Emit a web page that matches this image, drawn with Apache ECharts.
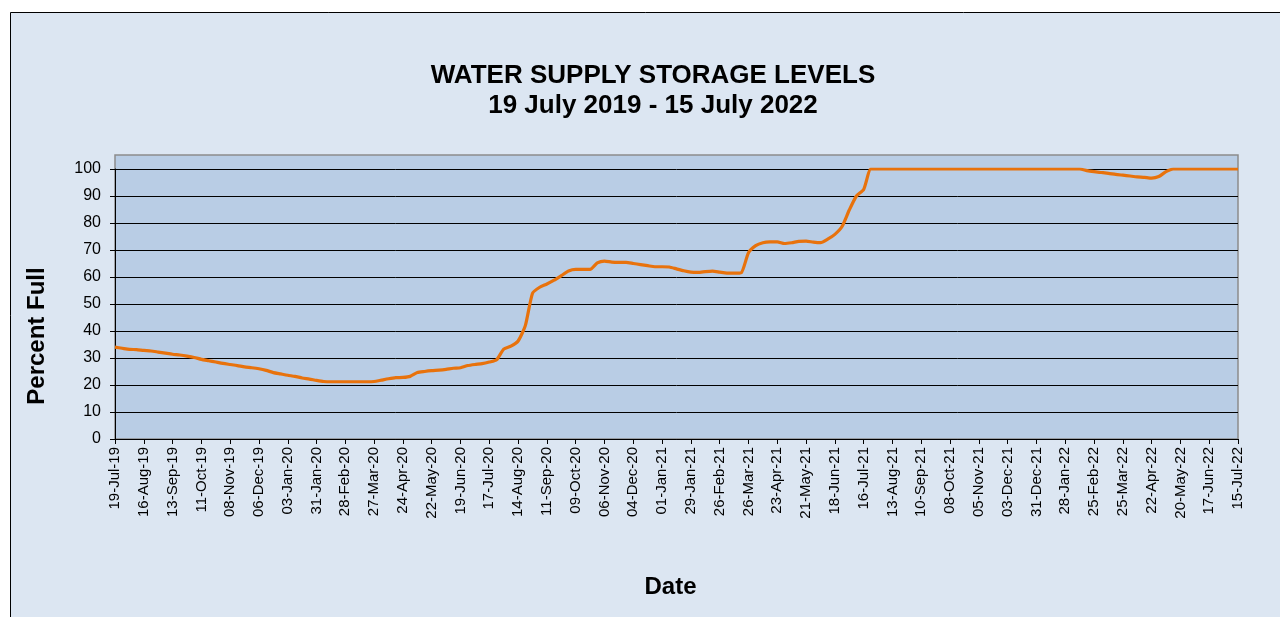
<!DOCTYPE html>
<html>
<head>
<meta charset="utf-8">
<title>Water Supply Storage Levels</title>
<script src="https://cdn.jsdelivr.net/npm/echarts@6/dist/echarts.min.js"></script>
<style>
    html, body { margin: 0; padding: 0; background: #ffffff; }
    #storage-chart { width: 1280px; height: 617px; }
</style>
</head>
<body>
<div id="storage-chart"></div>
<script>
// weekly readings, first one on 19-Jul-2019
var startDate = '2019-07-19';
var percentFull = [
    34.0, 33.6, 33.2, 33.1, 32.8, 32.6, 32.2, 31.8, 31.4, 31.1,
    30.7, 30.2, 29.5, 29.0, 28.5, 28.0, 27.6, 27.2, 26.7, 26.4,
    26.0, 25.4, 24.6, 24.1, 23.6, 23.2, 22.6, 22.2, 21.7, 21.3,
    21.2, 21.2, 21.2, 21.2, 21.2, 21.2, 21.3, 21.8, 22.3, 22.7,
    22.8, 23.2, 24.6, 25.0, 25.3, 25.5, 25.8, 26.2, 26.4, 27.2,
    27.6, 27.9, 28.5, 29.3, 33.3, 34.4, 36.3, 42.0, 54.0, 56.2,
    57.4, 58.8, 60.5, 62.2, 62.8, 62.8, 62.8, 65.2, 65.9, 65.5,
    65.4, 65.4, 65.0, 64.6, 64.2, 63.8, 63.8, 63.7, 63.0, 62.3,
    61.8, 61.7, 62.0, 62.2, 61.8, 61.4, 61.4, 61.6, 69.0, 71.6,
    72.7, 73.0, 73.0, 72.4, 72.7, 73.2, 73.3, 72.9, 72.7, 74.0,
    75.8, 78.7, 84.8, 90.0, 92.4, 100, 100, 100, 100, 100,
    100, 100, 100, 100, 100, 100, 100, 100, 100, 100,
    100, 100, 100, 100, 100, 100, 100, 100, 100, 100,
    100, 100, 100, 100, 100, 99.4, 99.0, 98.7, 98.4, 98.0,
    97.7, 97.4, 97.1, 96.9, 96.6, 97.2, 99.0, 100, 100, 100,
    100, 100, 100, 100, 100, 100, 100
];
var yTicks = [0, 10, 20, 30, 40, 50, 60, 70, 80, 90, 100];

var monthNames = ['Jan','Feb','Mar','Apr','May','Jun','Jul','Aug','Sep','Oct','Nov','Dec'];
function fmtDate(d) {
    var dd = ('0' + d.getUTCDate()).slice(-2);
    var yy = ('' + d.getUTCFullYear()).slice(-2);
    return dd + '-' + monthNames[d.getUTCMonth()] + '-' + yy;
}
var weekDates = [];
var t0 = Date.parse(startDate + 'T00:00:00Z');
for (var i = 0; i < percentFull.length; i++) {
    weekDates.push(fmtDate(new Date(t0 + i * 7 * 86400000)));
}

var chart = echarts.init(document.getElementById('storage-chart'));
var font = '"Liberation Sans", Arial, sans-serif';
var option = {
    animation: false,
    backgroundColor: '#ffffff',
    textStyle: { fontFamily: font },
    graphic: [
        {
            type: 'rect', z: -20, silent: true,
            shape: { x: 10.5, y: 12.5, width: 1300, height: 700 },
            style: { fill: '#dce6f2', stroke: '#000000', lineWidth: 1 }
        },
        {
            type: 'rect', z: -10, silent: true,
            shape: { x: 115, y: 155, width: 1123, height: 284 },
            style: { fill: '#b9cde5', stroke: '#8c8c8c', lineWidth: 1.5 }
        }
    ],
    title: {
        text: 'WATER SUPPLY STORAGE LEVELS\n19 July 2019 - 15 July 2022',
        left: 648,
        top: 56,
        textAlign: 'center',
        textStyle: {
            fontFamily: font,
            fontSize: 26,
            fontWeight: 'bold',
            color: '#000',
            lineHeight: 30
        }
    },
    grid: {
        left: 115,
        top: 169,
        width: 1123,
        height: 270,
        containLabel: false
    },
    xAxis: {
        type: 'category',
        data: weekDates,
        boundaryGap: false,
        name: 'Date',
        nameLocation: 'middle',
        nameGap: 136,
        nameTextStyle: {
            fontFamily: font, fontSize: 24, fontWeight: 'bold', color: '#000',
            padding: [0, 12, 0, 0]
        },
        axisLine: { lineStyle: { color: '#000', width: 1 } },
        axisTick: { interval: 3, alignWithLabel: true, length: 5, lineStyle: { color: '#000' } },
        axisLabel: {
            interval: 3,
            rotate: 90,
            margin: 8,
            fontFamily: font,
            fontSize: 15,
            color: '#000'
        },
        splitLine: { show: false }
    },
    yAxis: {
        type: 'value',
        min: yTicks[0],
        max: yTicks[yTicks.length - 1],
        interval: 10,
        name: 'Percent Full',
        nameLocation: 'middle',
        nameRotate: 90,
        nameGap: 66,
        nameTextStyle: {
            fontFamily: font, fontSize: 24, fontWeight: 'bold', color: '#000',
            padding: [0, 64, 0, 0]
        },
        axisLine: { show: true, lineStyle: { color: '#000', width: 1 } },
        axisTick: { show: true, length: 5, lineStyle: { color: '#000' } },
        axisLabel: { margin: 14, fontFamily: font, fontSize: 16, color: '#000' },
        splitLine: { show: true, lineStyle: { color: '#000', width: 1 } }
    },
    series: [
        {
            name: 'Percent Full',
            type: 'line',
            data: percentFull,
            showSymbol: false,
            smooth: 0.2,
            lineStyle: { color: '#e8720c', width: 3.2 },
            itemStyle: { color: '#e8720c' }
        }
    ]
};
chart.setOption(option);
window.addEventListener('resize', chart.resize);
</script>
</body>
</html>
